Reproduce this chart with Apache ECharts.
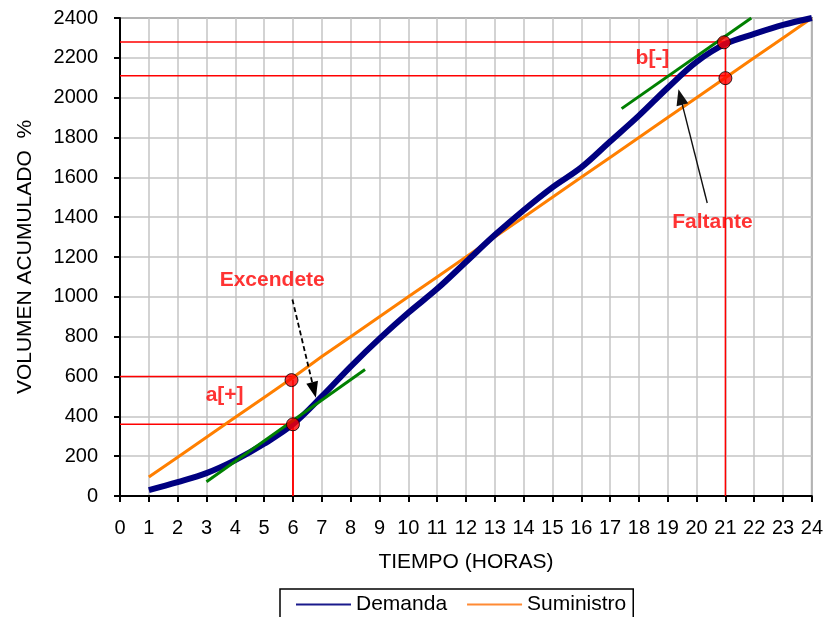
<!DOCTYPE html>
<html>
<head>
<meta charset="utf-8">
<script src="https://cdn.jsdelivr.net/npm/echarts@6/dist/echarts.min.js"></script>
<style>
html,body{margin:0;padding:0;background:#fff;}
#main{width:826px;height:617px;}
</style>
</head>
<body>
<div id="main"></div>
<script>
// ---- data ----
const hours = [1,2,3,4,5,6,7,8,9,10,11,12,13,14,15,16,17,18,19,20,21,22,23,24];
const demanda = [30,70,115,180,262,360,500,650,790,920,1040,1175,1310,1435,1550,1650,1780,1910,2050,2180,2270,2320,2365,2400];
const suministro = [95,195,295,395,495,595,700,800,900,1000,1100,1200,1300,1400,1500,1600,1700,1800,1900,2000,2100,2200,2300,2400];
const xTicks = [0,1,2,3,4,5,6,7,8,9,10,11,12,13,14,15,16,17,18,19,20,21,22,23,24];
const yTicks = [0,200,400,600,800,1000,1200,1400,1600,1800,2000,2200,2400];
// tangent lines
const tangenteA = [[3.0,72],[8.5,635]];
const tangenteB = [[17.4,1945],[21.9,2400]];
// red guide lines
const guiaA1 = [[0,600],[6,600]];
const guiaA2 = [[0,360],[6,360],[6,0]];
const guiaA3 = [[6,0],[6,582]];
const guiaB1 = [[0,2280],[21,2280],[21,0]];
const guiaB2 = [[0,2110],[21,2110]];
// marked points
const puntos = [[5.95,582],[6,360],[20.95,2278],[21,2098]];
// arrows
const flechaExc = [[5.98,987],[6.73,532]];
const flechaFal = [[20.37,1471],[19.44,2003]];
// annotations
const notas = [
  {name:'Excendete', value:[5.28,1084]},
  {name:'a[+]', value:[3.63,507]},
  {name:'b[-]', value:[18.47,2199]},
  {name:'Faltante', value:[20.55,1375]}
];

const FONT = 'Liberation Sans, Arial, sans-serif';
const chart = echarts.init(document.getElementById('main'));

function pairs(h, v){ return h.map((x,i)=>[x,v[i]]); }
function redLine(data){
  return {type:'line', data:data, symbol:'none', silent:true, z:3,
    lineStyle:{color:'#ff0000', width:1.5}, animation:false};
}

const option = {
  animation:false,
  backgroundColor:'#ffffff',
  grid:{left:120, right:11, top:18, bottom:121, show:true, borderColor:'#808080', borderWidth:2, backgroundColor:'#fff'},
  legend:{
    data:[
      {name:'Demanda', icon:'rect', itemStyle:{color:'#1a1a8c'}},
      {name:'Suministro', icon:'rect', itemStyle:{color:'#ff8a33'}}
    ],
    left:280, top:589,
    borderColor:'#000', borderWidth:1.5,
    padding:[5,7,10,16],
    itemWidth:55, itemHeight:2, itemGap:20,
    textStyle:{fontFamily:FONT, fontSize:21, color:'#000'}
  },
  xAxis:{
    type:'value', min:0, max:24, interval:1,
    name:'TIEMPO (HORAS)', nameLocation:'middle', nameGap:56,
    nameTextStyle:{fontFamily:FONT, fontSize:21, color:'#000'},
    axisLine:{show:true, lineStyle:{color:'#000', width:2}},
    axisTick:{show:true, length:6, lineStyle:{color:'#000', width:2}},
    axisLabel:{fontFamily:FONT, fontSize:20, color:'#000', margin:22,
      formatter:(v)=> xTicks.includes(v) ? String(v) : ''},
    splitLine:{show:true, lineStyle:{color:'#c4c4c4', width:1.5}}
  },
  yAxis:{
    type:'value', min:0, max:2400, interval:200,
    name:'VOLUMEN ACUMULADO  %', nameLocation:'middle', nameGap:84, nameRotate:90,
    nameTextStyle:{fontFamily:FONT, fontSize:21, color:'#000'},
    axisLine:{show:true, lineStyle:{color:'#000', width:2}},
    axisTick:{show:true, length:6, lineStyle:{color:'#000', width:2}},
    axisLabel:{fontFamily:FONT, fontSize:20, color:'#000', margin:22,
      formatter:(v)=> yTicks.includes(v) ? String(v) : ''},
    splitLine:{show:true, lineStyle:{color:'#c4c4c4', width:1.5}}
  },
  series:[
    redLine(guiaA1), redLine(guiaA2), redLine(guiaA3), redLine(guiaB1), redLine(guiaB2),
    {name:'Suministro', type:'line', data:pairs(hours, suministro), symbol:'none', z:4,
      lineStyle:{color:'#ff7f00', width:3}, itemStyle:{color:'#ff7f00'}},
    {name:'Demanda', type:'line', data:pairs(hours, demanda), symbol:'none', smooth:0.35, z:5,
      lineStyle:{color:'#000080', width:6}, itemStyle:{color:'#000080'}},
    {type:'line', data:tangenteA, symbol:'none', z:6, lineStyle:{color:'#008000', width:3}},
    {type:'line', data:tangenteB, symbol:'none', z:6, lineStyle:{color:'#008000', width:3}},
    {type:'scatter', data:puntos, symbol:'circle', symbolSize:13, z:8,
      itemStyle:{color:'#ff0000', borderColor:'#000', borderWidth:1}},
    {type:'line', data:[], symbol:'none', z:9,
      markLine:{silent:true, animation:false, symbol:['none','triangle'], symbolSize:[12,16],
        label:{show:false},
        data:[
          [{coord:flechaExc[0], lineStyle:{type:[5,3], width:1.8, color:'#000'}}, {coord:flechaExc[1]}],
          [{coord:flechaFal[0]}, {coord:flechaFal[1]}]
        ],
        lineStyle:{color:'#111', width:1.4, type:'solid'}
      }},
    {type:'scatter', data:notas, symbolSize:0, z:10, silent:true,
      label:{show:true, position:'inside', formatter:(p)=>p.name,
        fontFamily:FONT, fontSize:21, fontWeight:'bold', color:'#ff0000'}}
  ]
};
chart.setOption(option);
</script>
</body>
</html>
